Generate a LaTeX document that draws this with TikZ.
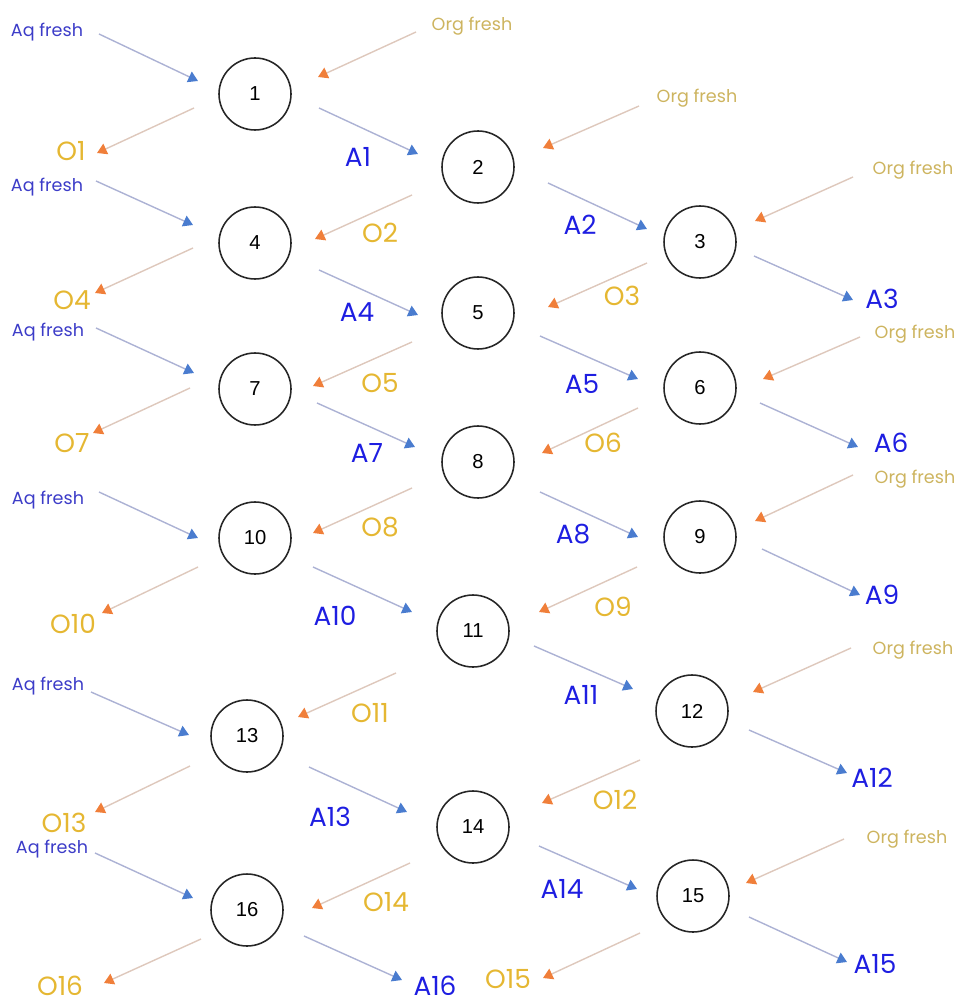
\documentclass[tikz,border=0pt]{standalone}
\usepackage{xcolor}
\usepackage{fontspec}
\newfontfamily\lblfont{Poppins}
\newfontfamily\numfont{Liberation Sans}
\usepackage{tikz}
\usetikzlibrary{arrows.meta, calc}
\definecolor{aqtxt}{RGB}{60,60,200}
\definecolor{atxt}{RGB}{30,30,225}
\definecolor{orgtxt}{RGB}{205,180,95}
\definecolor{otxt}{RGB}{229,183,50}
\definecolor{aqline}{RGB}{172,178,212}
\definecolor{aqhead}{RGB}{74,124,207}
\definecolor{orgline}{RGB}{222,200,188}
\definecolor{orghead}{RGB}{240,127,58}
\tikzstyle{stage} = [circle, draw=black!85, line width=0.9pt, minimum size=1.44cm, inner sep=0pt, font=\numfont\fontsize{11.5}{13}\selectfont]
\tikzstyle{aqfresh} = [text=aqtxt, inner sep=0pt, text depth=0pt, font=\lblfont\fontsize{10}{12}\selectfont]
\tikzstyle{orgfresh} = [text=orgtxt, inner sep=0pt, text depth=0pt, font=\lblfont\fontsize{10}{12}\selectfont]
\tikzstyle{aqlabel} = [text=atxt, inner sep=0pt, font=\lblfont\fontsize{15}{18}\selectfont]
\tikzstyle{orglabel} = [text=otxt, inner sep=0pt, font=\lblfont\fontsize{15}{18}\selectfont]
\tikzstyle{aqarrow} = [draw=aqline, line width=0.8pt, -{Triangle[length=5.5pt, width=6.5pt, color=aqhead]}]
\tikzstyle{orgarrow} = [draw=orgline, line width=0.8pt, -{Triangle[length=5.5pt, width=6.5pt, color=orghead]}]

\begin{document}
\begin{tikzpicture}[x=0.02cm, y=-0.02cm]
    \useasboundingbox (0,0) rectangle (957,1003);

    % Stages
    \node[stage] (s1) at (255,94) {1};
    \node[stage] (s2) at (478,167) {2};
    \node[stage] (s3) at (700,242) {3};
    \node[stage] (s4) at (255,243) {4};
    \node[stage] (s5) at (478,313) {5};
    \node[stage] (s6) at (700,388) {6};
    \node[stage] (s7) at (255,389) {7};
    \node[stage] (s8) at (478,462) {8};
    \node[stage] (s9) at (700,537) {9};
    \node[stage] (s10) at (255,538) {10};
    \node[stage] (s11) at (473,631) {11};
    \node[stage] (s12) at (692,711) {12};
    \node[stage] (s13) at (247,736) {13};
    \node[stage] (s14) at (473,827) {14};
    \node[stage] (s15) at (693,896) {15};
    \node[stage] (s16) at (247,910) {16};

    % Fresh feeds
    \node[aqfresh] (aq1) at (47,30) {Aq fresh};
    \node[aqfresh] (aq4) at (47,185) {Aq fresh};
    \node[aqfresh] (aq7) at (48,330) {Aq fresh};
    \node[aqfresh] (aq10) at (48,498) {Aq fresh};
    \node[aqfresh] (aq13) at (48,684) {Aq fresh};
    \node[aqfresh] (aq16) at (52,847) {Aq fresh};
    \node[orgfresh] (org1) at (472,24) {Org fresh};
    \node[orgfresh] (org2) at (697,96) {Org fresh};
    \node[orgfresh] (org3) at (913,168) {Org fresh};
    \node[orgfresh] (org6) at (915,332) {Org fresh};
    \node[orgfresh] (org9) at (915,477) {Org fresh};
    \node[orgfresh] (org12) at (913,648) {Org fresh};
    \node[orgfresh] (org15) at (907,837) {Org fresh};

    % Aqueous stream labels
    \node[aqlabel] (a1) at (358,157) {A1};
    \node[aqlabel] (a2) at (580,225) {A2};
    \node[aqlabel] (a3) at (882,299) {A3};
    \node[aqlabel] (a4) at (357,312) {A4};
    \node[aqlabel] (a5) at (582,384) {A5};
    \node[aqlabel] (a6) at (891,443) {A6};
    \node[aqlabel] (a7) at (367,453) {A7};
    \node[aqlabel] (a8) at (573,534) {A8};
    \node[aqlabel] (a9) at (882,595) {A9};
    \node[aqlabel] (a10) at (335,616) {A10};
    \node[aqlabel] (a11) at (581,695) {A11};
    \node[aqlabel] (a12) at (872,778) {A12};
    \node[aqlabel] (a13) at (330,817) {A13};
    \node[aqlabel] (a14) at (562,889) {A14};
    \node[aqlabel] (a15) at (875,964) {A15};
    \node[aqlabel] (a16) at (435,986) {A16};

    % Organic stream labels
    \node[orglabel] (o1) at (71,151) {O1};
    \node[orglabel] (o2) at (380,233) {O2};
    \node[orglabel] (o3) at (622,296) {O3};
    \node[orglabel] (o4) at (72,300) {O4};
    \node[orglabel] (o5) at (380,383) {O5};
    \node[orglabel] (o6) at (603,443) {O6};
    \node[orglabel] (o7) at (72,443) {O7};
    \node[orglabel] (o8) at (380,527) {O8};
    \node[orglabel] (o9) at (613,607) {O9};
    \node[orglabel] (o10) at (73,624) {O10};
    \node[orglabel] (o11) at (370,713) {O11};
    \node[orglabel] (o12) at (615,800) {O12};
    \node[orglabel] (o13) at (64,823) {O13};
    \node[orglabel] (o14) at (386,902) {O14};
    \node[orglabel] (o15) at (508,979) {O15};
    \node[orglabel] (o16) at (60,986) {O16};

    % Fresh aqueous in
    \draw[aqarrow] ($(aq1)+(52,4)$) -- ($(s1)+(-57,-13)$);
    \draw[aqarrow] ($(aq4)+(49,-4)$) -- ($(s4)+(-62,-18)$);
    \draw[aqarrow] ($(aq7)+(48,-2)$) -- ($(s7)+(-61,-16)$);
    \draw[aqarrow] ($(aq10)+(51,-6)$) -- ($(s10)+(-57,0)$);
    \draw[aqarrow] ($(aq13)+(43,8)$) -- ($(s13)+(-58,-1)$);
    \draw[aqarrow] ($(aq16)+(43,6)$) -- ($(s16)+(-54,-12)$);

    % Fresh organic in
    \draw[orgarrow] ($(org1)+(-56,8)$) -- ($(s1)+(63,-17)$);
    \draw[orgarrow] ($(org2)+(-58,10)$) -- ($(s2)+(65,-19)$);
    \draw[orgarrow] ($(org3)+(-60,9)$) -- ($(s3)+(55,-21)$);
    \draw[orgarrow] ($(org6)+(-55,5)$) -- ($(s6)+(63,-9)$);
    \draw[orgarrow] ($(org9)+(-62,-2)$) -- ($(s9)+(55,-16)$);
    \draw[orgarrow] ($(org12)+(-62,0)$) -- ($(s12)+(61,-19)$);
    \draw[orgarrow] ($(org15)+(-63,2)$) -- ($(s15)+(53,-13)$);

    % Aqueous streams
    \draw[aqarrow] ($(s1)+(64,14)$) -- ($(s2)+(-60,-13)$);
    \draw[aqarrow] ($(s2)+(70,16)$) -- ($(s3)+(-53,-13)$);
    \draw[aqarrow] ($(s3)+(54,14)$) -- ($(a3)+(-29,1)$);
    \draw[aqarrow] ($(s4)+(64,27)$) -- ($(s5)+(-60,2)$);
    \draw[aqarrow] ($(s5)+(62,23)$) -- ($(s6)+(-62,-9)$);
    \draw[aqarrow] ($(s6)+(60,15)$) -- ($(a6)+(-33,4)$);
    \draw[aqarrow] ($(s7)+(62,14)$) -- ($(s8)+(-63,-15)$);
    \draw[aqarrow] ($(s8)+(62,30)$) -- ($(s9)+(-62,0)$);
    \draw[aqarrow] ($(s9)+(62,12)$) -- ($(a9)+(-22,0)$);
    \draw[aqarrow] ($(s10)+(58,29)$) -- ($(s11)+(-61,-19)$);
    \draw[aqarrow] ($(s11)+(61,15)$) -- ($(s12)+(-59,-22)$);
    \draw[aqarrow] ($(s12)+(57,19)$) -- ($(a12)+(-25,-5)$);
    \draw[aqarrow] ($(s13)+(62,31)$) -- ($(s14)+(-66,-15)$);
    \draw[aqarrow] ($(s14)+(66,19)$) -- ($(s15)+(-56,-7)$);
    \draw[aqarrow] ($(s15)+(56,21)$) -- ($(a15)+(-28,-2)$);
    \draw[aqarrow] ($(s16)+(57,26)$) -- ($(a16)+(-33,-6)$);

    % Organic streams
    \draw[orgarrow] ($(s1)+(-61,14)$) -- ($(o1)+(26,2)$);
    \draw[orgarrow] ($(s2)+(-66,28)$) -- ($(s4)+(60,-4)$);
    \draw[orgarrow] ($(s3)+(-53,21)$) -- ($(s5)+(70,-6)$);
    \draw[orgarrow] ($(s4)+(-62,5)$) -- ($(o4)+(23,-7)$);
    \draw[orgarrow] ($(s5)+(-66,29)$) -- ($(s7)+(58,-3)$);
    \draw[orgarrow] ($(s6)+(-62,20)$) -- ($(s8)+(64,-9)$);
    \draw[orgarrow] ($(s7)+(-65,-1)$) -- ($(o7)+(21,-10)$);
    \draw[orgarrow] ($(s8)+(-66,26)$) -- ($(s10)+(58,-5)$);
    \draw[orgarrow] ($(s9)+(-63,30)$) -- ($(s11)+(66,-19)$);
    \draw[orgarrow] ($(s10)+(-57,29)$) -- ($(o10)+(29,-11)$);
    \draw[orgarrow] ($(s11)+(-77,42)$) -- ($(s13)+(51,-19)$);
    \draw[orgarrow] ($(s12)+(-52,49)$) -- ($(s14)+(69,-24)$);
    \draw[orgarrow] ($(s13)+(-57,30)$) -- ($(o13)+(31,-11)$);
    \draw[orgarrow] ($(s14)+(-63,36)$) -- ($(s16)+(65,-2)$);
    \draw[orgarrow] ($(s15)+(-53,37)$) -- ($(o15)+(35,-1)$);
    \draw[orgarrow] ($(s16)+(-46,29)$) -- ($(o16)+(44,-3)$);
\end{tikzpicture}
\end{document}
